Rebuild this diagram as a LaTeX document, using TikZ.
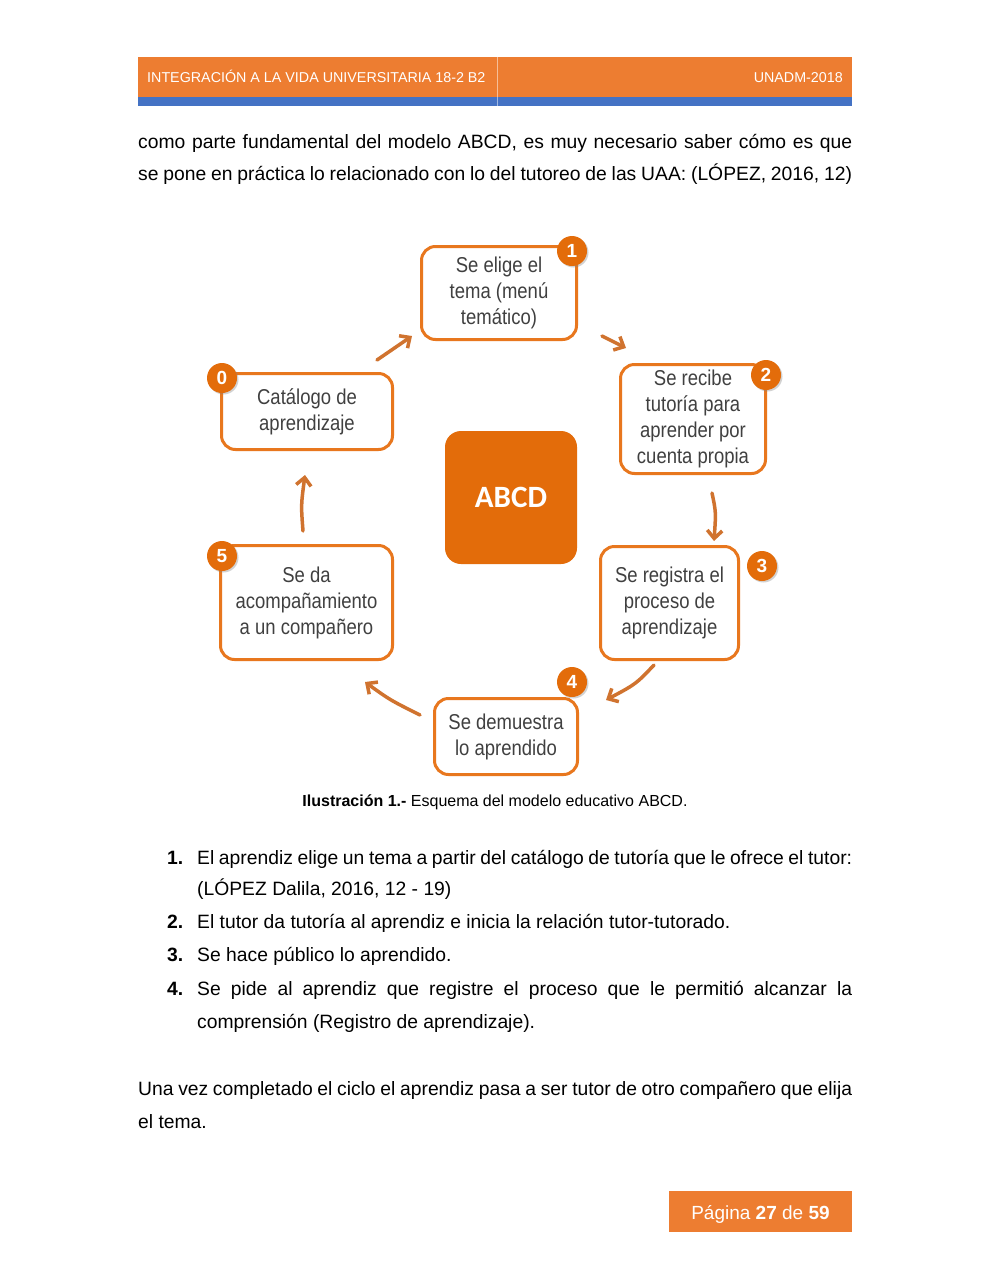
\documentclass[tikz,border=0pt]{standalone}
\usepackage{fontspec}
\setmainfont{Liberation Sans}
\newfontfamily\narrowfont[FakeStretch=0.86]{Liberation Sans}
\newfontfamily\calfont{Carlito}
\usetikzlibrary{arrows.meta,shadows}

\definecolor{naranja}{HTML}{ED7D31}
\definecolor{azul}{HTML}{4472C4}
\definecolor{borde}{HTML}{E8771E}
\definecolor{relleno}{HTML}{E36C0A}
\definecolor{flechacol}{HTML}{D0732F}
\definecolor{gris}{HTML}{404040}

\newcommand{\cuerpo}{\fontsize{19.3}{33}\selectfont}

\begin{document}
\begin{tikzpicture}[x=1pt, y=-1pt, line join=round,
	paso/.style={draw=borde, line width=3pt, rounded corners=14pt, fill=white, align=center,
		text=gris, inner sep=0pt, font=\narrowfont\fontsize{21.5}{26}\selectfont},
	num/.style={circle, fill=relleno, text=white, inner sep=0pt, minimum size=30pt,
		font=\bfseries\fontsize{19}{19}\selectfont,
		drop shadow={opacity=0.35, shadow xshift=1.5pt, shadow yshift=-1.5pt}},
	flecha/.style={-{Straight Barb[length=8pt,width=15pt,line width=3.5pt]}, draw=flechacol, line width=3.5pt, line cap=round}]

	\useasboundingbox[fill=white] (0,0) rectangle (990,1280);

	% encabezado
	\fill[naranja] (138,57) rectangle (852,97);
	\fill[azul] (138,97) rectangle (852,106);
	\draw[white, opacity=0.5, line width=1pt] (497,57)--(497,106);
	\node[anchor=base west, text=white, inner sep=0pt, font=\fontsize{14.3}{14.3}\selectfont] (tit) at (147,82) {INTEGRACIÓN A LA VIDA UNIVERSITARIA 18-2 B2};
	\node[anchor=base east, text=white, inner sep=0pt, font=\fontsize{14.3}{14.3}\selectfont] (ano) at (843,82) {UNADM-2018};

	% texto
	\node[anchor=base west, inner sep=0pt, font=\cuerpo] (p1) at (138,148) {\makebox[714pt][s]{como parte fundamental del modelo ABCD, es muy necesario saber cómo es que}};
	\node[anchor=base west, inner sep=0pt, font=\cuerpo] (p2) at (138,180) {\makebox[714pt][s]{se pone en práctica lo relacionado con lo del tutoreo de las UAA: (LÓPEZ, 2016, 12)}};

	% esquema
	\node[paso, minimum width=155pt, minimum height=93pt] (b1) at (499,293) {Se elige el\\tema (menú\\temático)};
	\node[paso, minimum width=145pt, minimum height=109pt] (b2) at (693,419) {Se recibe\\tutoría para\\aprender por\\cuenta propia};
	\node[paso, minimum width=171pt, minimum height=76pt] (b0) at (307,411.5) {Catálogo de\\aprendizaje};
	\node[fill=relleno, rounded corners=16pt, minimum width=132pt, minimum height=133pt, text=white,
		font=\calfont\bfseries\fontsize{31}{31}\selectfont] (abcd) at (511,497.5) {ABCD};
	\node[paso, minimum width=138pt, minimum height=113pt] (b3) at (669.5,603) {Se registra el\\proceso de\\aprendizaje};
	\node[paso, minimum width=143pt, minimum height=76pt] (b4) at (506,736.5) {Se demuestra\\lo aprendido};
	\node[paso, minimum width=172pt, minimum height=114pt] (b5) at (306.5,602.5) {Se da\\acompañamiento\\a un compañero};

	\node[num] (n1) at (572,251) {1};
	\node[num] (n2) at (766,375) {2};
	\node[num] (n0) at (222,378) {0};
	\node[num] (n3) at (762,566) {3};
	\node[num] (n4) at (572,682) {4};
	\node[num] (n5) at (222,556) {5};

	\coordinate (f0a) at (377,360); \coordinate (f0b) at (412,336);
	\coordinate (f1a) at (602,336); \coordinate (f1b) at (626,348);
	\coordinate (f2a) at (712,493); \coordinate (f2b) at (714,541);
	\coordinate (f3a) at (654,665); \coordinate (f3b) at (606,700);
	\coordinate (f4a) at (420,715); \coordinate (f4b) at (365,682);
	\coordinate (f5a) at (303,531); \coordinate (f5b) at (305,475);
	\draw[flecha] (f0a)--(f0b);
	\draw[flecha] (f1a)--(f1b);
	\draw[flecha] (f2a) .. controls (716,512) .. (f2b);
	\draw[flecha] (f3a) .. controls (636,684) .. (f3b);
	\draw[flecha] (f4a) .. controls (390,700) .. (f4b);
	\draw[flecha] (f5a) .. controls (301,505) .. (f5b);

	\node[anchor=base, inner sep=0pt, font=\fontsize{16}{16}\selectfont] (cap) at (495,806) {\textbf{Ilustración 1.-} Esquema del modelo educativo ABCD.};

	% lista
	\node[anchor=base west, inner sep=0pt, font=\cuerpo\bfseries] (l1) at (167,864) {1.};
	\node[anchor=base west, inner sep=0pt, font=\cuerpo] (i1a) at (197,864) {\makebox[655pt][s]{El aprendiz elige un tema a partir del catálogo de tutoría que le ofrece el tutor:}};
	\node[anchor=base west, inner sep=0pt, font=\cuerpo] (i1b) at (197,895) {(LÓPEZ Dalila, 2016, 12 - 19)};
	\node[anchor=base west, inner sep=0pt, font=\cuerpo\bfseries] (l2) at (167,928) {2.};
	\node[anchor=base west, inner sep=0pt, font=\cuerpo] (i2) at (197,928) {El tutor da tutoría al aprendiz e inicia la relación tutor-tutorado.};
	\node[anchor=base west, inner sep=0pt, font=\cuerpo\bfseries] (l3) at (167,961) {3.};
	\node[anchor=base west, inner sep=0pt, font=\cuerpo] (i3) at (197,961) {Se hace público lo aprendido.};
	\node[anchor=base west, inner sep=0pt, font=\cuerpo\bfseries] (l4) at (167,995) {4.};
	\node[anchor=base west, inner sep=0pt, font=\cuerpo] (i4a) at (197,995) {\makebox[655pt][s]{Se pide al aprendiz que registre el proceso que le permitió alcanzar la}};
	\node[anchor=base west, inner sep=0pt, font=\cuerpo] (i4b) at (197,1028) {comprensión (Registro de aprendizaje).};

	\node[anchor=base west, inner sep=0pt, font=\cuerpo] (q1) at (138,1095) {\makebox[714pt][s]{Una vez completado el ciclo el aprendiz pasa a ser tutor de otro compañero que elija}};
	\node[anchor=base west, inner sep=0pt, font=\cuerpo] (q2) at (138,1128) {el tema.};

	% pie
	\fill[naranja] (669,1191) rectangle (852,1232);
	\node[anchor=base, inner sep=0pt, text=white, font=\fontsize{19}{19}\selectfont] (pag) at (760.5,1219) {Página \textbf{27} de \textbf{59}};
\end{tikzpicture}
\end{document}
